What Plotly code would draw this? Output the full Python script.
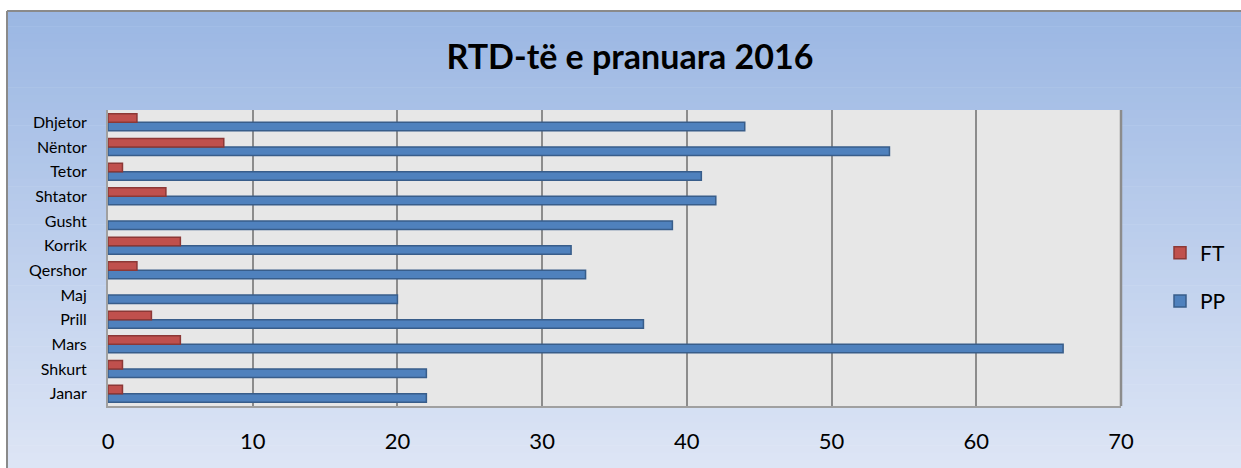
import plotly.graph_objects as go

months = ["Janar", "Shkurt", "Mars", "Prill", "Maj", "Qershor", "Korrik",
          "Gusht", "Shtator", "Tetor", "Nëntor", "Dhjetor"]
pp_values = [22, 22, 66, 37, 20, 33, 32, 39, 42, 41, 54, 44]
ft_values = [1, 1, 5, 3, 0, 2, 5, 0, 4, 1, 8, 2]
x_ticks = [0, 10, 20, 30, 40, 50, 60, 70]
title_text = "RTD-të e pranuara 2016"

W, H = 1241, 468
ml, mr, mt, mb = 108, 120, 110, 62
PW, PH = W - ml - mr, H - mt - mb

fig = go.Figure()
fig.add_trace(go.Bar(
    y=months, x=pp_values, name="PP", orientation="h", legendgroup="pp",
    legendrank=2,
    marker=dict(color="#4F81BD",
                line=dict(color="#385D8A", width=[1.5 if v > 0 else 0 for v in pp_values])),
))
fig.add_trace(go.Bar(
    y=months, x=ft_values, name="FT", orientation="h", legendgroup="ft",
    legendrank=1,
    marker=dict(color="#C0504D",
                line=dict(color="#8C3836", width=[1.5 if v > 0 else 0 for v in ft_values])),
))


def px_x(p):
    return (p - ml) / PW


def px_y(p):
    return ((H - p) - mb) / PH


shapes = []
top_c = (155, 183, 227)
bot_c = (221, 229, 245)
n = 60
y_start = 11
for i in range(n):
    t = i / (n - 1)
    c = tuple(int(round(top_c[k] + (bot_c[k] - top_c[k]) * t)) for k in range(3))
    ya = y_start + (H - y_start) * i / n
    yb = y_start + (H - y_start) * (i + 1) / n
    shapes.append(dict(type="rect", xref="paper", yref="paper",
                       x0=px_x(7), x1=px_x(W + 5),
                       y0=px_y(yb + 0.6), y1=px_y(ya),
                       fillcolor="rgb(%d,%d,%d)" % c, line=dict(width=0),
                       layer="below"))
# frame border (left & top)
shapes.append(dict(type="line", xref="paper", yref="paper", x0=px_x(7), x1=px_x(7),
                   y0=px_y(H + 5), y1=px_y(11),
                   line=dict(color="#8A8A8A", width=2), layer="below"))
shapes.append(dict(type="line", xref="paper", yref="paper", x0=px_x(7),
                   x1=px_x(W + 5), y0=px_y(11), y1=px_y(11),
                   line=dict(color="#8A8A8A", width=2), layer="below"))
# plot area background
shapes.append(dict(type="rect", xref="paper", yref="paper", x0=0, x1=1, y0=0, y1=1,
                   fillcolor="#E7E7E7", line=dict(width=0), layer="below"))
# right border of plot area
shapes.append(dict(type="line", xref="paper", yref="paper", x0=1, x1=1, y0=0, y1=1,
                   line=dict(color="#8C8C8C", width=2.5), layer="above"))

fig.update_layout(
    width=W, height=H,
    margin=dict(l=ml, r=mr, t=mt, b=mb, pad=0),
    paper_bgcolor="white",
    plot_bgcolor="rgba(0,0,0,0)",
    shapes=shapes,
    barmode="group",
    bargap=0.31,
    bargroupgap=0.0,
    title=dict(text="<b>" + title_text + "</b>", x=630 / W, xref="container",
               xanchor="center", y=1 - 57 / H, yanchor="middle",
               font=dict(family="Lato, Carlito, sans-serif", size=34, color="black")),
    font=dict(family="Lato, Carlito, sans-serif", color="black"),
    xaxis=dict(range=[0, 70], tickvals=x_ticks, showgrid=True,
               gridcolor="#8C8C8C", gridwidth=2, zeroline=False,
               showline=True, linecolor="#A0A0A0", linewidth=2,
               ticks="", tickfont=dict(size=22), ticklabelstandoff=15),
    yaxis=dict(categoryorder="array", categoryarray=months,
               showgrid=False, zeroline=False, showline=True,
               linecolor="#A0A0A0", linewidth=2, ticks="",
               tickfont=dict(size=16), ticklabelstandoff=16),
    legend=dict(xref="container", yref="container",
                x=1160 / W, y=1 - 277 / H, xanchor="left", yanchor="middle",
                traceorder="grouped", font=dict(size=21),
                bgcolor="rgba(0,0,0,0)", itemwidth=30, tracegroupgap=18,
                itemclick=False),
    showlegend=True,
)

fig.write_html("out.html", config={"displayModeBar": False},
               post_script="document.body.style.margin='0';document.body.style.overflow='hidden';")
